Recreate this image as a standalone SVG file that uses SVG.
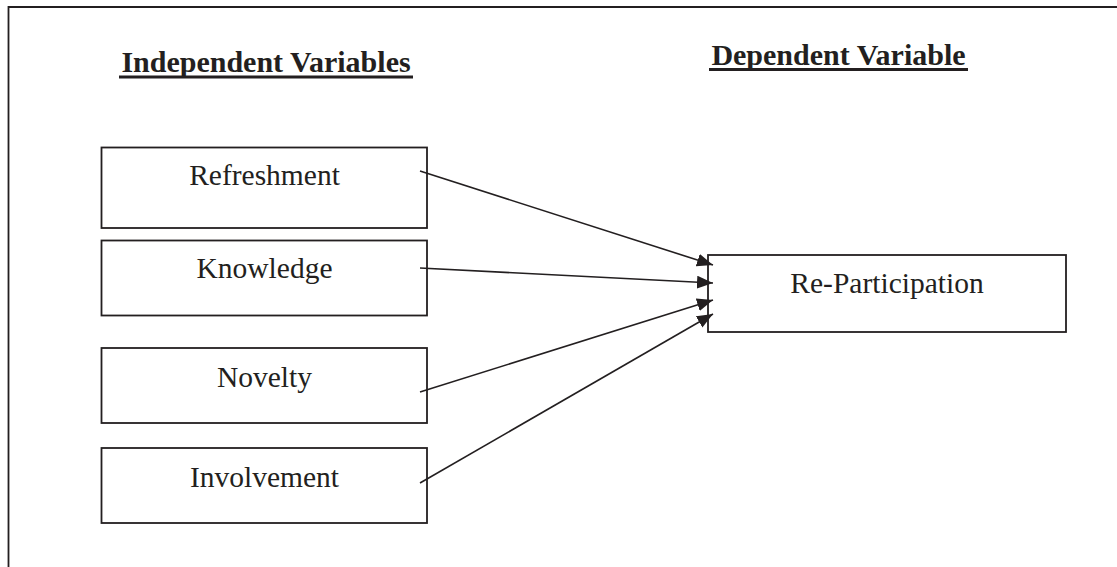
<svg xmlns="http://www.w3.org/2000/svg" width="1117" height="567" viewBox="0 0 1117 567">
<defs>
<style>
.box{fill:#fff;stroke:#231f20;stroke-width:1.8}
.lbl{font-family:"Liberation Serif","Times New Roman",serif;font-size:29.5px;fill:#231f20;text-anchor:middle}
.ttl{font-family:"Liberation Serif","Times New Roman",serif;font-size:30px;font-weight:bold;fill:#231f20;text-anchor:middle}
.ul{stroke:#231f20;stroke-width:3}
.conn{stroke:#231f20;stroke-width:1.6;fill:none;marker-end:url(#ah)}
</style>
<marker id="ah" markerUnits="userSpaceOnUse" viewBox="0 0 16 13" refX="16" refY="6.5" markerWidth="16" markerHeight="13" orient="auto">
<path d="M0,0 L16,6.5 L0,13 Z" fill="#231f20"/>
</marker>
</defs>
<rect width="1117" height="567" fill="#fff"/>
<path d="M8.5,567 V7 H1117" fill="none" stroke="#231f20" stroke-width="1.8"/>
<g id="title-independent">
<text class="ttl" x="266" y="72">Independent Variables</text>
<line class="ul" x1="119" y1="77" x2="413" y2="77"/>
</g>
<g id="title-dependent">
<text class="ttl" x="838.5" y="65">Dependent Variable</text>
<line class="ul" x1="709" y1="69.5" x2="968" y2="69.5"/>
</g>
<g id="node-refreshment">
<rect class="box" x="101.5" y="147.5" width="325.5" height="80.5"/>
<text class="lbl" x="264.5" y="185">Refreshment</text>
</g>
<g id="node-knowledge">
<rect class="box" x="101.5" y="240.5" width="325.5" height="75"/>
<text class="lbl" x="264.5" y="278">Knowledge</text>
</g>
<g id="node-novelty">
<rect class="box" x="101.5" y="348" width="325.5" height="75"/>
<text class="lbl" x="264.5" y="387">Novelty</text>
</g>
<g id="node-involvement">
<rect class="box" x="101.5" y="448" width="325.5" height="75"/>
<text class="lbl" x="264.5" y="487">Involvement</text>
</g>
<g id="node-reparticipation">
<rect class="box" x="708" y="255" width="358" height="77"/>
<text class="lbl" x="887" y="293">Re-Participation</text>
</g>
<g id="connectors">
<line class="conn" x1="420" y1="171" x2="713" y2="265"/>
<line class="conn" x1="420" y1="268" x2="713" y2="283"/>
<line class="conn" x1="420" y1="392" x2="713" y2="300"/>
<line class="conn" x1="420" y1="483" x2="713" y2="314"/>
</g>
</svg>
